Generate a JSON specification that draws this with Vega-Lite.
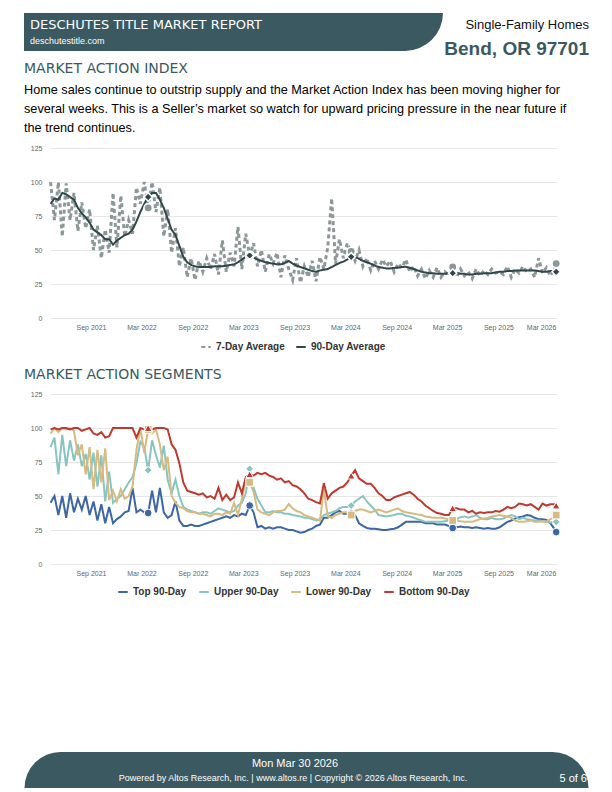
{
"$schema": "https://vega.github.io/schema/vega-lite/v6.json",
"padding": {"left": 24, "top": 13, "right": 0, "bottom": 0},
"bounds": "flush",
"spacing": 76,
"resolve": {"scale": {"color": "independent", "strokeDash": "independent", "shape": "independent"}, "legend": {"color": "independent", "strokeDash": "independent", "shape": "independent"}},
"config": {
  "view": {"stroke": null},
  "font": "Liberation Sans",
  "axis": {"labelFont": "Liberation Sans", "labelFontSize": 7, "labelColor": "#666", "domain": false, "ticks": false, "gridColor": "#e6e6e6", "gridWidth": 1, "title": null}
},
"datasets": {"d": [
{"d":"2021-04-09","a":100,"n":84,"t":45,"u":86,"l":96,"b":99},
{"d":"2021-04-23","a":72,"n":88,"t":50,"u":93,"l":100,"b":100},
{"d":"2021-05-07","a":100,"n":87,"t":36,"u":66,"l":97,"b":99},
{"d":"2021-05-21","a":60,"n":92,"t":50,"u":95,"l":100,"b":100},
{"d":"2021-06-04","a":99,"n":91,"t":34,"u":72,"l":99,"b":100},
{"d":"2021-06-18","a":72,"n":89,"t":52,"u":91,"l":100,"b":99},
{"d":"2021-07-02","a":92,"n":87,"t":38,"u":76,"l":98,"b":100},
{"d":"2021-07-16","a":64,"n":81,"t":48,"u":88,"l":80,"b":100},
{"d":"2021-07-30","a":85,"n":77,"t":40,"u":72,"l":88,"b":98},
{"d":"2021-08-13","a":66,"n":74,"t":50,"u":81,"l":66,"b":99},
{"d":"2021-08-27","a":80,"n":70,"t":36,"u":62,"l":86,"b":100},
{"d":"2021-09-10","a":50,"n":65,"t":46,"u":82,"l":55,"b":96},
{"d":"2021-09-24","a":68,"n":63,"t":32,"u":57,"l":84,"b":95},
{"d":"2021-10-08","a":44,"n":61,"t":44,"u":80,"l":60,"b":97},
{"d":"2021-10-22","a":65,"n":58,"t":30,"u":46,"l":85,"b":93},
{"d":"2021-11-05","a":48,"n":58,"t":42,"u":68,"l":47,"b":94},
{"d":"2021-11-19","a":92,"n":54,"t":30,"u":45,"l":54,"b":100},
{"d":"2021-12-03","a":52,"n":57,"t":33,"u":48,"l":46,"b":100},
{"d":"2021-12-17","a":90,"n":59,"t":35,"u":50,"l":55,"b":100},
{"d":"2021-12-31","a":60,"n":61,"t":38,"u":55,"l":48,"b":100},
{"d":"2022-01-14","a":72,"n":62,"t":39,"u":60,"l":50,"b":100},
{"d":"2022-01-28","a":62,"n":65,"t":56,"u":64,"l":57,"b":100},
{"d":"2022-02-11","a":96,"n":71,"t":38,"u":74,"l":84,"b":93},
{"d":"2022-02-25","a":84,"n":78,"t":40,"u":90,"l":100,"b":100},
{"d":"2022-03-11","a":100,"n":84,"t":38,"u":86,"l":82,"b":99},
{"d":"2022-03-25","a":81,"n":89,"t":37.5,"u":69,"l":99,"b":100,"m":1},
{"d":"2022-04-08","a":100,"n":92,"t":54,"u":91,"l":96,"b":99},
{"d":"2022-04-22","a":78,"n":92,"t":38,"u":80,"l":99,"b":100},
{"d":"2022-05-06","a":96,"n":87,"t":56,"u":71,"l":88,"b":100},
{"d":"2022-05-20","a":60,"n":81,"t":38,"u":87,"l":69,"b":100},
{"d":"2022-06-03","a":80,"n":73,"t":34,"u":62,"l":79,"b":99},
{"d":"2022-06-17","a":48,"n":65,"t":36,"u":52,"l":50,"b":88},
{"d":"2022-07-01","a":66,"n":61,"t":46,"u":62,"l":45,"b":84},
{"d":"2022-07-15","a":38,"n":53,"t":32,"u":50,"l":42,"b":74},
{"d":"2022-07-29","a":52,"n":45,"t":28,"u":42,"l":41,"b":60},
{"d":"2022-08-12","a":30,"n":41,"t":28,"u":40,"l":39,"b":54},
{"d":"2022-08-26","a":44,"n":39,"t":29,"u":39,"l":38,"b":53},
{"d":"2022-09-09","a":28,"n":38,"t":28,"u":38,"l":38,"b":52},
{"d":"2022-09-23","a":42,"n":37.5,"t":28,"u":37,"l":37,"b":51},
{"d":"2022-10-07","a":34,"n":37.5,"t":29,"u":38,"l":37,"b":52},
{"d":"2022-10-21","a":44,"n":37.5,"t":30,"u":38,"l":36,"b":49},
{"d":"2022-11-04","a":36,"n":37.5,"t":31,"u":37,"l":35,"b":50},
{"d":"2022-11-18","a":47,"n":38,"t":32,"u":39,"l":37,"b":48},
{"d":"2022-12-02","a":32,"n":38,"t":33,"u":41,"l":37,"b":56},
{"d":"2022-12-16","a":57,"n":38,"t":34,"u":40,"l":36,"b":47},
{"d":"2022-12-30","a":34,"n":38.5,"t":35,"u":39,"l":38,"b":51},
{"d":"2023-01-13","a":48,"n":39,"t":34,"u":38,"l":37,"b":47},
{"d":"2023-01-27","a":38,"n":39.5,"t":36,"u":39,"l":45,"b":49},
{"d":"2023-02-10","a":67,"n":41,"t":35,"u":43,"l":36,"b":60},
{"d":"2023-02-24","a":36,"n":43,"t":37,"u":45,"l":48,"b":52},
{"d":"2023-03-10","a":62,"n":45,"t":36,"u":52,"l":62,"b":64},
{"d":"2023-03-24","a":46,"n":46,"t":43,"u":70,"l":60,"b":66,"m":1},
{"d":"2023-04-07","a":55,"n":44.5,"t":38,"u":56,"l":53,"b":65},
{"d":"2023-04-21","a":38,"n":43,"t":27,"u":48,"l":40,"b":67},
{"d":"2023-05-05","a":50,"n":42,"t":28,"u":43,"l":38,"b":66},
{"d":"2023-05-19","a":34,"n":41,"t":26,"u":38,"l":37,"b":67},
{"d":"2023-06-02","a":47,"n":40.5,"t":27,"u":38,"l":36,"b":65},
{"d":"2023-06-16","a":40,"n":40,"t":26,"u":39,"l":38,"b":64},
{"d":"2023-06-30","a":48,"n":39.5,"t":27,"u":38,"l":39,"b":62},
{"d":"2023-07-14","a":30,"n":39.5,"t":27,"u":38,"l":39,"b":63},
{"d":"2023-07-28","a":46,"n":40.5,"t":26,"u":37,"l":40,"b":60},
{"d":"2023-08-11","a":36,"n":42,"t":25,"u":37,"l":44,"b":61},
{"d":"2023-08-25","a":28,"n":40,"t":25,"u":36,"l":41,"b":58},
{"d":"2023-09-08","a":44,"n":38.5,"t":24,"u":35.5,"l":39,"b":57},
{"d":"2023-09-22","a":26,"n":37.5,"t":23,"u":35,"l":38,"b":55},
{"d":"2023-10-06","a":38,"n":36.5,"t":23.5,"u":34,"l":36,"b":52},
{"d":"2023-10-20","a":30,"n":35.5,"t":25,"u":34,"l":35,"b":48},
{"d":"2023-11-03","a":42,"n":34.5,"t":26,"u":33,"l":34,"b":47},
{"d":"2023-11-17","a":27,"n":34,"t":28,"u":32,"l":33,"b":45.5},
{"d":"2023-12-01","a":45,"n":35,"t":29,"u":33,"l":32,"b":44.5},
{"d":"2023-12-15","a":36,"n":35.5,"t":34,"u":36,"l":55,"b":59.5},
{"d":"2023-12-29","a":52,"n":36,"t":34,"u":37,"l":35,"b":48},
{"d":"2024-01-12","a":88,"n":37.5,"t":36,"u":38,"l":34,"b":52},
{"d":"2024-01-26","a":40,"n":39,"t":38,"u":39,"l":36,"b":54},
{"d":"2024-02-09","a":58,"n":40.5,"t":39,"u":41,"l":37,"b":56},
{"d":"2024-02-23","a":44,"n":41.5,"t":37,"u":42,"l":38,"b":57},
{"d":"2024-03-08","a":55,"n":43,"t":37,"u":42,"l":38,"b":60},
{"d":"2024-03-22","a":49,"n":45,"t":37,"u":43,"l":36,"b":65,"m":1},
{"d":"2024-04-05","a":42,"n":45,"t":36,"u":46,"l":39,"b":69},
{"d":"2024-04-19","a":50,"n":43.5,"t":30,"u":48,"l":40,"b":63},
{"d":"2024-05-03","a":38,"n":42,"t":28,"u":50,"l":40,"b":61},
{"d":"2024-05-17","a":44,"n":41,"t":26.5,"u":46,"l":39,"b":59},
{"d":"2024-05-31","a":35,"n":40,"t":26,"u":43,"l":38,"b":59},
{"d":"2024-06-14","a":42,"n":38.5,"t":26,"u":40,"l":39,"b":56},
{"d":"2024-06-28","a":36,"n":37.5,"t":25.5,"u":36,"l":40,"b":52},
{"d":"2024-07-12","a":43,"n":37,"t":25,"u":35.5,"l":39,"b":50},
{"d":"2024-07-26","a":38,"n":36.5,"t":25,"u":35,"l":38,"b":47},
{"d":"2024-08-09","a":42,"n":36.5,"t":25.5,"u":35.5,"l":39,"b":47},
{"d":"2024-08-23","a":34,"n":36.8,"t":26,"u":36,"l":40,"b":49},
{"d":"2024-09-06","a":40,"n":37,"t":27,"u":37,"l":41,"b":50},
{"d":"2024-09-20","a":37,"n":37.5,"t":29,"u":37,"l":39,"b":51},
{"d":"2024-10-04","a":43,"n":37.7,"t":31,"u":35.5,"l":38,"b":52},
{"d":"2024-10-18","a":34,"n":37,"t":31,"u":35,"l":37.5,"b":53},
{"d":"2024-11-01","a":38,"n":36,"t":31,"u":34,"l":37,"b":51},
{"d":"2024-11-15","a":31,"n":35,"t":31,"u":33,"l":36.5,"b":48},
{"d":"2024-11-29","a":36,"n":34,"t":31,"u":32,"l":36,"b":46},
{"d":"2024-12-13","a":29,"n":33.5,"t":30,"u":31,"l":35,"b":43},
{"d":"2024-12-27","a":35,"n":33,"t":30,"u":31,"l":34.5,"b":41},
{"d":"2025-01-10","a":30,"n":33,"t":30,"u":31,"l":34,"b":39},
{"d":"2025-01-24","a":37,"n":32.5,"t":29,"u":31,"l":34,"b":37.5},
{"d":"2025-02-07","a":30,"n":32.5,"t":29,"u":31,"l":34,"b":37},
{"d":"2025-02-21","a":34,"n":32.5,"t":29,"u":31.5,"l":33.5,"b":36},
{"d":"2025-03-07","a":31,"n":33,"t":28,"u":32,"l":33,"b":36},
{"d":"2025-03-21","a":37.5,"n":33,"t":26.5,"u":32,"l":32,"b":41,"m":1},
{"d":"2025-04-04","a":30,"n":33,"t":27,"u":33,"l":32,"b":41},
{"d":"2025-04-18","a":36,"n":32.5,"t":27.5,"u":34.5,"l":31.5,"b":40},
{"d":"2025-05-02","a":31,"n":32.5,"t":27,"u":35,"l":31,"b":40},
{"d":"2025-05-16","a":34,"n":32,"t":27,"u":34,"l":31,"b":38},
{"d":"2025-05-30","a":29,"n":32,"t":26.5,"u":35,"l":31,"b":39},
{"d":"2025-06-13","a":36,"n":32.5,"t":27,"u":36,"l":32,"b":37},
{"d":"2025-06-27","a":31,"n":32.5,"t":26.5,"u":34,"l":33,"b":38},
{"d":"2025-07-11","a":35,"n":33,"t":26,"u":33,"l":33.5,"b":37.5},
{"d":"2025-07-25","a":32,"n":33,"t":26.5,"u":33,"l":34,"b":38},
{"d":"2025-08-08","a":36,"n":33,"t":26,"u":34,"l":35,"b":38},
{"d":"2025-08-22","a":33,"n":33.5,"t":26,"u":33,"l":35.5,"b":39},
{"d":"2025-09-05","a":34,"n":34,"t":27,"u":33,"l":36,"b":38.5},
{"d":"2025-09-19","a":32,"n":34,"t":29,"u":33.5,"l":35.5,"b":40},
{"d":"2025-10-03","a":38,"n":34.5,"t":31,"u":35,"l":35,"b":42},
{"d":"2025-10-17","a":30,"n":34.5,"t":32,"u":36,"l":34,"b":41},
{"d":"2025-10-31","a":36,"n":35,"t":33.5,"u":35,"l":32,"b":42},
{"d":"2025-11-14","a":33,"n":35,"t":34.5,"u":33,"l":31,"b":44.5},
{"d":"2025-11-28","a":38,"n":35,"t":35,"u":34,"l":31,"b":44},
{"d":"2025-12-12","a":34,"n":35,"t":36,"u":33,"l":31.5,"b":43},
{"d":"2025-12-26","a":36,"n":35,"t":35.5,"u":32.5,"l":32,"b":44},
{"d":"2026-01-09","a":30,"n":35,"t":34,"u":32,"l":31,"b":42},
{"d":"2026-01-23","a":44,"n":34.5,"t":33,"u":32,"l":31,"b":40},
{"d":"2026-02-06","a":33,"n":34,"t":33,"u":31.5,"l":31.5,"b":44.5},
{"d":"2026-02-20","a":37,"n":34,"t":32.5,"u":31,"l":31,"b":43},
{"d":"2026-03-06","a":31,"n":34.5,"t":30,"u":30.5,"l":33,"b":44},
{"d":"2026-03-20","a":36,"n":34.5,"t":26,"u":31,"l":34,"b":44},
{"d":"2026-03-27","a":40,"n":34,"t":23.5,"u":31,"l":36,"b":43,"m":1}
]},
"vconcat": [
{
  "width": 507, "height": 59,
  "data": {"values": [{}]},
  "layer": [
    {"mark": {"type": "rect", "color": "#3b5961"}, "encoding": {"x": {"value": -26}, "x2": {"value": 356}, "y": {"value": 0}, "y2": {"value": 38}}},
    {"mark": {"type": "arc", "color": "#3b5961", "radius": 38, "theta": 1.5708, "theta2": 3.1416}, "encoding": {"x": {"value": 355}, "y": {"value": 0}}},
    {"mark": {"type": "text", "align": "left", "baseline": "alphabetic", "font": "DejaVu Sans", "fontSize": 13, "color": "#ffffff"}, "encoding": {"x": {"value": -20}, "y": {"value": 15.5}, "text": {"value": "DESCHUTES TITLE MARKET REPORT"}}},
    {"mark": {"type": "text", "align": "left", "baseline": "alphabetic", "font": "Liberation Sans", "fontSize": 9, "color": "#ffffff"}, "encoding": {"x": {"value": -20}, "y": {"value": 31}, "text": {"value": "deschutestitle.com"}}},
    {"mark": {"type": "text", "align": "right", "baseline": "alphabetic", "font": "Liberation Sans", "fontSize": 13, "color": "#111111"}, "encoding": {"x": {"value": 539}, "y": {"value": 16}, "text": {"value": "Single-Family Homes"}}},
    {"mark": {"type": "text", "align": "right", "baseline": "alphabetic", "font": "Liberation Sans", "fontSize": 19, "fontWeight": "bold", "color": "#3b5961"}, "encoding": {"x": {"value": 539}, "y": {"value": 42}, "text": {"value": "Bend, OR 97701"}}},
    {"mark": {"type": "text", "align": "left", "baseline": "alphabetic", "font": "DejaVu Sans", "fontSize": 14, "color": "#3b5961"}, "encoding": {"x": {"value": -26}, "y": {"value": 60}, "text": {"value": "MARKET ACTION INDEX"}}},
    {"mark": {"type": "text", "align": "left", "baseline": "alphabetic", "font": "Liberation Sans", "fontSize": 12.7, "lineHeight": 19, "color": "#000000"}, "encoding": {"x": {"value": -26}, "y": {"value": 81}, "text": {"value": ["Home sales continue to outstrip supply and the Market Action Index has been moving higher for", "several weeks. This is a Seller\u2019s market so watch for upward pricing pressure in the near future if", "the trend continues."]}}}
  ]
},
{
  "width": 507, "height": 170,
  "data": {"name": "d"},
  "layer": [
    {
      "transform": [{"fold": ["a", "n"], "as": ["k", "v"]}],
      "mark": {"type": "line", "strokeCap": "butt"},
      "encoding": {
        "x": {"field": "d", "type": "temporal", "scale": {"domain": [{"year": 2021, "month": 4, "date": 7}, {"year": 2026, "month": 3, "date": 30}]},
              "axis": {"values": [{"year": 2021, "month": 9, "date": 1}, {"year": 2022, "month": 3, "date": 1}, {"year": 2022, "month": 9, "date": 1}, {"year": 2023, "month": 3, "date": 1}, {"year": 2023, "month": 9, "date": 1}, {"year": 2024, "month": 3, "date": 1}, {"year": 2024, "month": 9, "date": 1}, {"year": 2025, "month": 3, "date": 1}, {"year": 2025, "month": 9, "date": 1}, {"year": 2026, "month": 3, "date": 1}], "format": "%b %Y", "grid": false, "labelPadding": 5, "tickCount": 20, "labelFlush": 10, "labelFlushOffset": 7}},
        "y": {"field": "v", "type": "quantitative", "scale": {"domain": [0, 125.05], "nice": false}, "axis": {"values": [0, 25, 50, 75, 100, 125], "tickCount": 20, "grid": true, "labelPadding": 8}},
        "color": {"field": "k", "type": "nominal", "scale": {"domain": ["a", "n"], "range": ["#8c9797", "#2f4748"]},
                  "legend": {"orient": "none", "legendX": 150, "legendY": 193, "direction": "horizontal", "title": null, "symbolType": "stroke", "symbolSize": 90, "symbolStrokeWidth": 2, "labelFont": "Liberation Sans", "labelFontSize": 10, "labelFontWeight": "bold", "labelColor": "#333333", "columnPadding": 6, "labelExpr": "datum.label == 'a' ? '7-Day Average' : '90-Day Average'"}},
        "strokeDash": {"field": "k", "type": "nominal", "scale": {"domain": ["a", "n"], "range": [[4, 3], [1, 0]]},
                  "legend": {"orient": "none", "legendX": 150, "legendY": 193, "direction": "horizontal", "title": null, "symbolType": "stroke", "symbolSize": 90, "symbolStrokeWidth": 2, "labelFont": "Liberation Sans", "labelFontSize": 10, "labelFontWeight": "bold", "labelColor": "#333333", "columnPadding": 6, "labelExpr": "datum.label == 'a' ? '7-Day Average' : '90-Day Average'"}},
        "strokeWidth": {"condition": {"test": "datum.k == 'a'", "value": 3}, "value": 2}
      }
    },
    {
      "transform": [{"filter": "datum.m == 1"}],
      "mark": {"type": "point", "shape": "circle", "filled": true, "size": 70, "fill": "#8c9797", "stroke": "#ffffff", "strokeWidth": 1.5, "opacity": 1},
      "encoding": {"x": {"field": "d", "type": "temporal"}, "y": {"field": "a", "type": "quantitative"}}
    },
    {
      "transform": [{"filter": "datum.m == 1"}],
      "mark": {"type": "point", "shape": "diamond", "filled": true, "size": 70, "fill": "#2f4748", "stroke": "#ffffff", "strokeWidth": 1.5, "opacity": 1},
      "encoding": {"x": {"field": "d", "type": "temporal"}, "y": {"field": "n", "type": "quantitative"}}
    }
  ]
},
{
  "width": 507, "height": 170,
  "data": {"name": "d"},
  "layer": [
    {
      "transform": [{"fold": ["t", "u", "l", "b"], "as": ["k", "v"]}],
      "mark": {"type": "line", "strokeWidth": 2},
      "encoding": {
        "x": {"field": "d", "type": "temporal", "scale": {"domain": [{"year": 2021, "month": 4, "date": 7}, {"year": 2026, "month": 3, "date": 30}]},
              "axis": {"values": [{"year": 2021, "month": 9, "date": 1}, {"year": 2022, "month": 3, "date": 1}, {"year": 2022, "month": 9, "date": 1}, {"year": 2023, "month": 3, "date": 1}, {"year": 2023, "month": 9, "date": 1}, {"year": 2024, "month": 3, "date": 1}, {"year": 2024, "month": 9, "date": 1}, {"year": 2025, "month": 3, "date": 1}, {"year": 2025, "month": 9, "date": 1}, {"year": 2026, "month": 3, "date": 1}], "format": "%b %Y", "grid": false, "labelPadding": 5, "tickCount": 20, "labelFlush": 10, "labelFlushOffset": 7}},
        "y": {"field": "v", "type": "quantitative", "scale": {"domain": [0, 125.05], "nice": false}, "axis": {"values": [0, 25, 50, 75, 100, 125], "tickCount": 20, "grid": true, "labelPadding": 8}},
        "color": {"field": "k", "type": "nominal", "scale": {"domain": ["t", "u", "l", "b"], "range": ["#3d66a6", "#88c5c0", "#d7ba80", "#c0392f"]},
                  "legend": {"orient": "none", "legendX": 67, "legendY": 192, "direction": "horizontal", "title": null, "symbolType": "stroke", "symbolSize": 90, "symbolStrokeWidth": 2, "labelFont": "Liberation Sans", "labelFontSize": 10, "labelFontWeight": "bold", "labelColor": "#333333", "columnPadding": 8, "labelExpr": "datum.label == 't' ? 'Top 90-Day' : datum.label == 'u' ? 'Upper 90-Day' : datum.label == 'l' ? 'Lower 90-Day' : 'Bottom 90-Day'"}}
      }
    },
    {
      "transform": [{"filter": "datum.m == 1"}],
      "mark": {"type": "point", "shape": "circle", "filled": true, "size": 60, "fill": "#3d66a6", "stroke": "#ffffff", "strokeWidth": 1, "opacity": 1},
      "encoding": {"x": {"field": "d", "type": "temporal"}, "y": {"field": "t", "type": "quantitative"}}
    },
    {
      "transform": [{"filter": "datum.m == 1"}],
      "mark": {"type": "point", "shape": "diamond", "filled": true, "size": 60, "fill": "#88c5c0", "stroke": "#ffffff", "strokeWidth": 1, "opacity": 1},
      "encoding": {"x": {"field": "d", "type": "temporal"}, "y": {"field": "u", "type": "quantitative"}}
    },
    {
      "transform": [{"filter": "datum.m == 1"}],
      "mark": {"type": "point", "shape": "square", "filled": true, "size": 60, "fill": "#d7ba80", "stroke": "#ffffff", "strokeWidth": 1, "opacity": 1},
      "encoding": {"x": {"field": "d", "type": "temporal"}, "y": {"field": "l", "type": "quantitative"}}
    },
    {
      "transform": [{"filter": "datum.m == 1"}],
      "mark": {"type": "point", "shape": "triangle-up", "filled": true, "size": 60, "fill": "#c0392f", "stroke": "#ffffff", "strokeWidth": 1, "opacity": 1},
      "encoding": {"x": {"field": "d", "type": "temporal"}, "y": {"field": "b", "type": "quantitative"}}
    },
    {
      "data": {"values": [{}]},
      "mark": {"type": "text", "align": "left", "baseline": "alphabetic", "font": "DejaVu Sans", "fontSize": 14, "color": "#3b5961"},
      "encoding": {"x": {"value": -26}, "y": {"value": -15}, "text": {"value": "MARKET ACTION SEGMENTS"}}
    }
  ]
},
{
  "width": 507, "height": 148,
  "data": {"values": [{}]},
  "layer": [
    {"mark": {"type": "rect", "color": "#3b5961"}, "encoding": {"x": {"value": 10}, "x2": {"value": 503}, "y": {"value": 112}, "y2": {"value": 148}}},
    {"mark": {"type": "arc", "color": "#3b5961", "radius": 36, "theta": 4.7124, "theta2": 6.2832}, "encoding": {"x": {"value": 10.5}, "y": {"value": 148}}},
    {"mark": {"type": "arc", "color": "#3b5961", "radius": 36, "theta": 0, "theta2": 1.5708}, "encoding": {"x": {"value": 502.5}, "y": {"value": 148}}},
    {"mark": {"type": "text", "align": "center", "baseline": "alphabetic", "font": "Liberation Sans", "fontSize": 11, "color": "#ffffff"}, "encoding": {"x": {"value": 245}, "y": {"value": 127}, "text": {"value": "Mon Mar 30 2026"}}},
    {"mark": {"type": "text", "align": "center", "baseline": "alphabetic", "font": "Liberation Sans", "fontSize": 9, "color": "#ffffff"}, "encoding": {"x": {"value": 243}, "y": {"value": 141}, "text": {"value": "Powered by Altos Research, Inc. | www.altos.re | Copyright \u00a9 2026 Altos Research, Inc."}}},
    {"mark": {"type": "text", "align": "right", "baseline": "alphabetic", "font": "Liberation Sans", "fontSize": 11, "color": "#ffffff"}, "encoding": {"x": {"value": 537}, "y": {"value": 142}, "text": {"value": "5 of 6"}}}
  ]
}
]
}
